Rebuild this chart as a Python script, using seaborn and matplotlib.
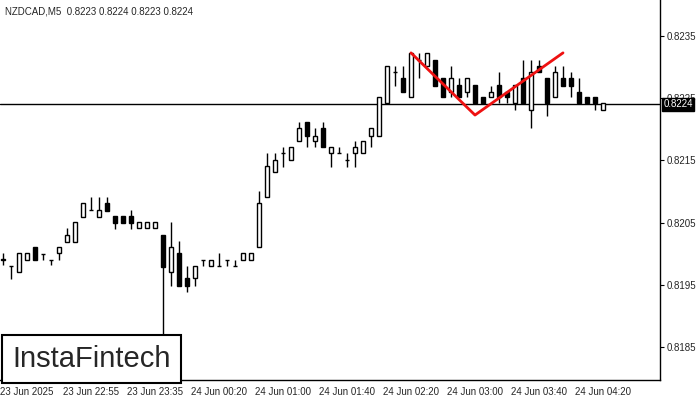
import matplotlib
matplotlib.use("Agg")
import matplotlib.pyplot as plt
import seaborn as sns
import numpy as np

# ── 数据 (o, h, l, c) ─────────────────────────────────────────────
opens = [0.81992, 0.81980, 0.81971, 0.81990, 0.82011, 0.81999, 0.81990, 0.82001, 0.82019, 0.82019,
         0.82059, 0.82070, 0.82059, 0.82081, 0.82061, 0.82061, 0.82061, 0.82041, 0.82041, 0.82041,
         0.82030, 0.81971, 0.82001, 0.81961, 0.81961, 0.81990, 0.81980, 0.81980, 0.81990, 0.81980,
         0.81990, 0.81990, 0.82011, 0.82091, 0.82131, 0.82162, 0.82151, 0.82181, 0.82212, 0.82181,
         0.82202, 0.82162, 0.82162, 0.82151, 0.82162, 0.82162, 0.82189, 0.82189, 0.82242, 0.82292,
         0.82282, 0.82252, 0.82311, 0.82302, 0.82311, 0.82282, 0.82260, 0.82271, 0.82260, 0.82271,
         0.82252, 0.82252, 0.82271, 0.82260, 0.82242, 0.82282, 0.82231, 0.82302, 0.82282, 0.82252,
         0.82282, 0.82282, 0.82260, 0.82252, 0.82252, 0.82231]
highs = [0.82001, 0.81980, 0.82001, 0.82001, 0.82011, 0.81999, 0.81990, 0.82011, 0.82041, 0.82051,
         0.82081, 0.82091, 0.82091, 0.82091, 0.82061, 0.82061, 0.82070, 0.82051, 0.82051, 0.82051,
         0.82030, 0.82051, 0.82020, 0.81980, 0.81980, 0.81990, 0.81990, 0.82001, 0.81990, 0.81990,
         0.82001, 0.82001, 0.82101, 0.82162, 0.82162, 0.82172, 0.82172, 0.82212, 0.82212, 0.82202,
         0.82212, 0.82172, 0.82172, 0.82162, 0.82181, 0.82181, 0.82202, 0.82252, 0.82302, 0.82302,
         0.82302, 0.82323, 0.82323, 0.82323, 0.82311, 0.82282, 0.82302, 0.82282, 0.82282, 0.82271,
         0.82252, 0.82270, 0.82292, 0.82260, 0.82271, 0.82311, 0.82311, 0.82311, 0.82282, 0.82302,
         0.82302, 0.82292, 0.82282, 0.82252, 0.82252, 0.82242]
lows = [0.81982, 0.81959, 0.81971, 0.81990, 0.81990, 0.81990, 0.81982, 0.81990, 0.82019, 0.82019,
        0.82059, 0.82070, 0.82059, 0.82069, 0.82040, 0.82049, 0.82040, 0.82041, 0.82041, 0.82041,
        0.81868, 0.81948, 0.81948, 0.81938, 0.81948, 0.81980, 0.81980, 0.81980, 0.81980, 0.81980,
        0.81990, 0.81990, 0.82011, 0.82091, 0.82131, 0.82139, 0.82151, 0.82181, 0.82172, 0.82172,
        0.82172, 0.82139, 0.82162, 0.82139, 0.82139, 0.82162, 0.82172, 0.82189, 0.82242, 0.82270,
        0.82260, 0.82252, 0.82282, 0.82302, 0.82270, 0.82252, 0.82252, 0.82252, 0.82252, 0.82242,
        0.82242, 0.82252, 0.82242, 0.82242, 0.82231, 0.82242, 0.82202, 0.82292, 0.82221, 0.82252,
        0.82270, 0.82252, 0.82242, 0.82242, 0.82231, 0.82231]
closes = [0.81990, 0.81980, 0.82001, 0.82001, 0.81990, 0.81999, 0.81990, 0.82011, 0.82030, 0.82051,
          0.82081, 0.82070, 0.82070, 0.82069, 0.82049, 0.82049, 0.82049, 0.82051, 0.82051, 0.82051,
          0.81979, 0.82011, 0.81948, 0.81948, 0.81980, 0.81990, 0.81990, 0.81980, 0.81990, 0.81980,
          0.82001, 0.82001, 0.82081, 0.82141, 0.82151, 0.82162, 0.82172, 0.82202, 0.82189, 0.82189,
          0.82172, 0.82172, 0.82162, 0.82151, 0.82172, 0.82181, 0.82202, 0.82252, 0.82302, 0.82292,
          0.82260, 0.82323, 0.82311, 0.82323, 0.82270, 0.82252, 0.82282, 0.82252, 0.82282, 0.82242,
          0.82242, 0.82260, 0.82252, 0.82252, 0.82271, 0.82242, 0.82292, 0.82292, 0.82242, 0.82292,
          0.82270, 0.82270, 0.82242, 0.82242, 0.82242, 0.82242]

# 双顶形态折线 (K线序号, 价格)
pattern_idx = [51, 59, 70]
pattern_price = [0.82323, 0.82223, 0.82323]

current_price = 0.8224
yticks = [0.8185, 0.8195, 0.8205, 0.8215, 0.8225, 0.8235]
xtick_idx = [3, 11, 19, 27, 35, 43, 51, 59, 67, 75]
xtick_labels = ["23 Jun 2025", "23 Jun 22:55", "23 Jun 23:35", "24 Jun 00:20", "24 Jun 01:00",
                "24 Jun 01:40", "24 Jun 02:20", "24 Jun 03:00", "24 Jun 03:40", "24 Jun 04:20"]

sns.set_style("white")
plt.rcParams["font.family"] = ["Liberation Sans", "DejaVu Sans"]

fig = plt.figure(figsize=(7, 4), dpi=100)
ax = fig.add_axes([0, 0.05, 660 / 700, 0.95])

idx = np.arange(len(opens))
o = np.array(opens); c = np.array(closes)
ax.vlines(idx, lows, highs, color="black", linewidth=1, zorder=2)
bottom = np.minimum(o, c)
height = np.maximum(np.abs(c - o), 0.000003)
face = np.where(c >= o, "white", "black")
ax.bar(idx, height, bottom=bottom, width=0.62, color=face, edgecolor="black", linewidth=1, zorder=3)

ax.axhline(current_price, color="black", linewidth=1, zorder=1)
ax.plot(pattern_idx, pattern_price, color="#ee1111", linewidth=2, zorder=4)

ax.set_xlim(-0.375, 82.125)
ax.set_ylim(0.81797, 0.82408)
ax.yaxis.tick_right()
ax.set_yticks(yticks)
ax.set_yticklabels([f"{v:.4f}" for v in yticks], fontsize=7)
ax.set_xticks(xtick_idx)
ax.set_xticklabels(xtick_labels, fontsize=7)
ax.tick_params(axis="both", length=3, pad=2, color="black")
for s in ["top", "left"]:
    ax.spines[s].set_visible(False)
for s in ["right", "bottom"]:
    ax.spines[s].set_color("black")
    ax.spines[s].set_linewidth(1)

ax.text(1.005, current_price, f"{current_price:.4f}", transform=ax.get_yaxis_transform(),
        fontsize=7, color="white", va="center", ha="left", zorder=10,
        bbox=dict(boxstyle="square,pad=0.15", fc="black", ec="black"))

fig.text(5 / 700, 1 - 12 / 400, "NZDCAD,M5  0.8223 0.8224 0.8223 0.8224", fontsize=7, va="center")
fig.text(12 / 700, 1 - 359 / 400, "InstaFintech", fontsize=21, va="center", ha="left",
         bbox=dict(boxstyle="square,pad=0.35", fc="white", ec="black", lw=1.5))

plt.savefig("out.png", dpi=100)
